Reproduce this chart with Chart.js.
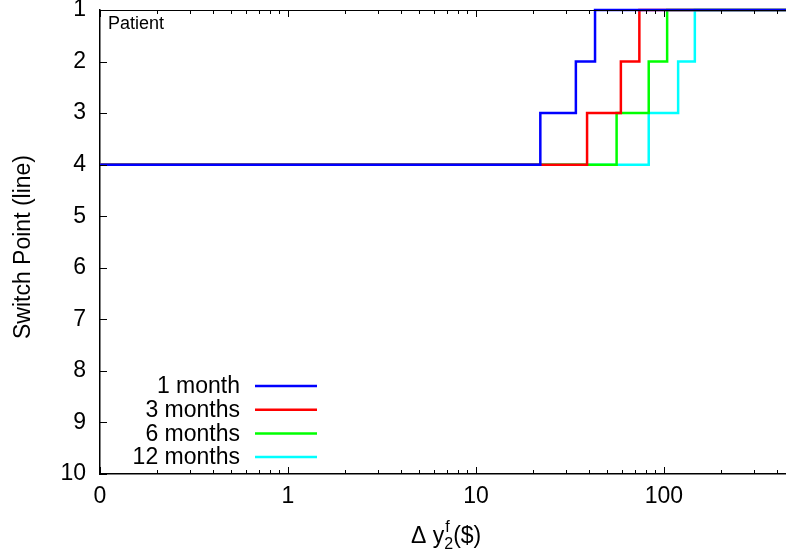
<!DOCTYPE html>
<html>
<head>
<meta charset="utf-8">
<script src="https://cdn.jsdelivr.net/npm/chart.js@4"></script>
<style>
  body { margin: 0; background: #fff; }
</style>
</head>
<body>
<canvas id="switchChart" width="786" height="552"></canvas>
<script>
// x = 0 is drawn at 0.1 on the log axis (labelled "0")
const X_ZERO = 0.1
const X_MAX = 446

const seriesNames = ['1 month', '3 months', '6 months', '12 months']
const seriesColors = ['#0000ff', '#ff0000', '#00ff00', '#00ffff']

const x1month = [X_ZERO, 22, 34, 43, X_MAX]
const y1month = [4, 3, 2, 1, 1]
const x3months = [X_ZERO, 39, 59, 74, X_MAX]
const y3months = [4, 3, 2, 1, 1]
const x6months = [X_ZERO, 56, 83, 104, X_MAX]
const y6months = [4, 3, 2, 1, 1]
const x12months = [X_ZERO, 83, 119, 146, X_MAX]
const y12months = [4, 3, 2, 1, 1]

const xMajorTicks = [0.1, 1, 10, 100]
const xTickLabels = ['0', '1', '10', '100']
const xMinorTicks = [0.2, 0.3, 0.4, 0.5, 0.6, 0.7, 0.8, 0.9,
                     2, 3, 4, 5, 6, 7, 8, 9,
                     20, 30, 40, 50, 60, 70, 80, 90,
                     200, 300, 400]
const yTicks = [1, 2, 3, 4, 5, 6, 7, 8, 9, 10]

const FONT = '"Liberation Sans", Arial, Helvetica, sans-serif'
const BIG = 23

const toPoints = (xs, ys) => xs.map((x, i) => ({x: x, y: ys[i]}))
const allX = [x1month, x3months, x6months, x12months]
const allY = [y1month, y3months, y6months, y12months]

const datasets = seriesNames.map((name, i) => ({
    label: name,
    data: toPoints(allX[i], allY[i]),
    borderColor: seriesColors[i],
    borderWidth: 2.5,
    pointRadius: 0,
    stepped: 'before',
    fill: false,
    clip: 3
}))

// gnuplot-like extras: inward ticks, top border, legend, titles
const gnuplotLook = {
    id: 'gnuplotLook',
    afterDraw(chart) {
        const ctx = chart.ctx
        const area = chart.chartArea
        const xs = chart.scales.x
        const ys = chart.scales.y
        ctx.save()
        ctx.strokeStyle = '#000'
        ctx.lineWidth = 1
        // top border
        ctx.beginPath()
        ctx.moveTo(area.left, area.top + 0.5)
        ctx.lineTo(area.right, area.top + 0.5)
        ctx.stroke()

        const tick = (x, y0, y1) => {
            ctx.beginPath()
            ctx.moveTo(x, y0)
            ctx.lineTo(x, y1)
            ctx.stroke()
        }
        xMajorTicks.forEach(v => {
            const px = Math.round(xs.getPixelForValue(v)) + 0.5
            tick(px, area.bottom, area.bottom - 7)
            tick(px, area.top, area.top + 7)
        })
        xMinorTicks.forEach(v => {
            const px = Math.round(xs.getPixelForValue(v)) + 0.5
            tick(px, area.bottom, area.bottom - 4)
            tick(px, area.top, area.top + 4)
        })
        yTicks.forEach(v => {
            const py = Math.round(ys.getPixelForValue(v)) + 0.5
            ctx.beginPath()
            ctx.moveTo(area.left, py)
            ctx.lineTo(area.left + 7, py)
            ctx.stroke()
        })

        // "Patient" label
        ctx.fillStyle = '#000'
        ctx.font = '18px ' + FONT
        ctx.textAlign = 'left'
        ctx.textBaseline = 'alphabetic'
        ctx.fillText('Patient', 108, 29)

        // legend
        ctx.font = BIG + 'px ' + FONT
        ctx.textAlign = 'right'
        ctx.textBaseline = 'middle'
        seriesNames.forEach((name, i) => {
            const y = 386 + i * 23.7
            ctx.fillStyle = '#000'
            ctx.fillText(name, 240, y + 1)
            ctx.strokeStyle = seriesColors[i]
            ctx.lineWidth = 2.5
            ctx.beginPath()
            ctx.moveTo(255, y)
            ctx.lineTo(317, y)
            ctx.stroke()
        })

        // y title
        ctx.fillStyle = '#000'
        ctx.save()
        ctx.translate(24, 247)
        ctx.rotate(-Math.PI / 2)
        ctx.textAlign = 'center'
        ctx.textBaseline = 'middle'
        ctx.font = BIG + 'px ' + FONT
        ctx.fillText('Switch Point (line)', 0, 0)
        ctx.restore()

        // x title: Δ y_2^f($)
        ctx.textAlign = 'left'
        ctx.textBaseline = 'alphabetic'
        const base = 543
        let x = 411
        ctx.font = BIG + 'px ' + FONT
        ctx.fillText('\u0394 y', x, base)
        x += ctx.measureText('\u0394 y').width
        ctx.font = '16px ' + FONT
        ctx.fillText('f', x + 1, base - 11)
        ctx.fillText('2', x, base + 6)
        x += ctx.measureText('2').width
        ctx.font = BIG + 'px ' + FONT
        ctx.fillText('($)', x, base)
        ctx.restore()
    }
}

const ctx = document.getElementById('switchChart').getContext('2d')
const switchChart = new Chart(ctx, {
    type: 'line',
    data: { datasets: datasets },
    options: {
        responsive: false,
        animation: false,
        devicePixelRatio: 1,
        layout: { padding: { top: 10, right: 0, left: 0, bottom: 0 } },
        plugins: {
            legend: { display: false },
            tooltip: { enabled: false }
        },
        scales: {
            x: {
                type: 'logarithmic',
                min: X_ZERO,
                max: X_MAX,
                afterFit: scale => {
                    scale.height = 78
                    scale.paddingLeft = 0
                    scale.paddingRight = 0
                },
                afterBuildTicks: scale => {
                    scale.ticks = xMajorTicks.map(v => ({value: v}))
                },
                ticks: {
                    autoSkip: false,
                    maxRotation: 0,
                    padding: 9,
                    color: '#000',
                    font: { size: BIG, family: FONT },
                    callback: function (value) {
                        const i = xMajorTicks.indexOf(value)
                        return i >= 0 ? xTickLabels[i] : ''
                    }
                },
                grid: { display: false, drawTicks: false },
                border: { display: true, color: '#000', width: 1.5 }
            },
            y: {
                type: 'linear',
                reverse: true,
                min: 1,
                max: 10,
                afterFit: scale => {
                    scale.width = 100
                    scale.paddingTop = 0
                    scale.paddingBottom = 0
                },
                ticks: {
                    stepSize: 1,
                    padding: 14,
                    color: '#000',
                    font: { size: BIG, family: FONT }
                },
                grid: { display: false, drawTicks: false },
                border: { display: true, color: '#000', width: 1.5 }
            }
        }
    },
    plugins: [gnuplotLook]
})
</script>
</body>
</html>
